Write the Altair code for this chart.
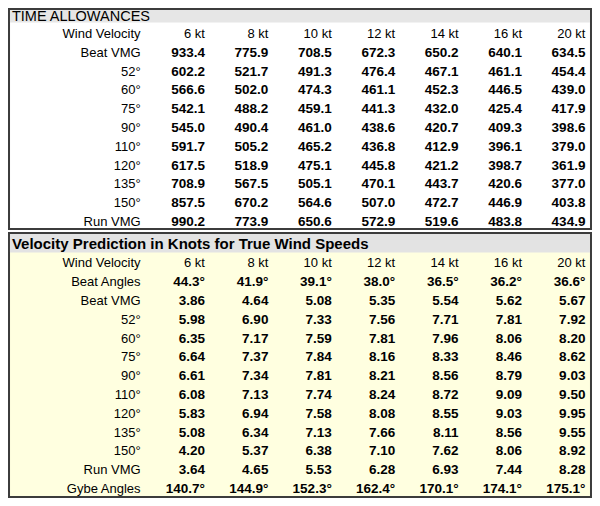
import altair as alt
import pandas as pd

# ---------------- data ----------------
kt_labels = ["6 kt", "8 kt", "10 kt", "12 kt", "14 kt", "16 kt", "20 kt"]

ta_title = "TIME ALLOWANCES"
ta_rows = ["Beat VMG", "52°", "60°", "75°", "90°", "110°", "120°", "135°", "150°", "Run VMG"]
ta_values = [
    [933.4, 775.9, 708.5, 672.3, 650.2, 640.1, 634.5],
    [602.2, 521.7, 491.3, 476.4, 467.1, 461.1, 454.4],
    [566.6, 502.0, 474.3, 461.1, 452.3, 446.5, 439.0],
    [542.1, 488.2, 459.1, 441.3, 432.0, 425.4, 417.9],
    [545.0, 490.4, 461.0, 438.6, 420.7, 409.3, 398.6],
    [591.7, 505.2, 465.2, 436.8, 412.9, 396.1, 379.0],
    [617.5, 518.9, 475.1, 445.8, 421.2, 398.7, 361.9],
    [708.9, 567.5, 505.1, 470.1, 443.7, 420.6, 377.0],
    [857.5, 670.2, 564.6, 507.0, 472.7, 446.9, 403.8],
    [990.2, 773.9, 650.6, 572.9, 519.6, 483.8, 434.9],
]

vp_title = "Velocity Prediction in Knots for True Wind Speeds"
vp_rows = ["Beat Angles", "Beat VMG", "52°", "60°", "75°", "90°", "110°", "120°",
           "135°", "150°", "Run VMG", "Gybe Angles"]
vp_values = [
    [44.3, 41.9, 39.1, 38.0, 36.5, 36.2, 36.6],
    [3.86, 4.64, 5.08, 5.35, 5.54, 5.62, 5.67],
    [5.98, 6.90, 7.33, 7.56, 7.71, 7.81, 7.92],
    [6.35, 7.17, 7.59, 7.81, 7.96, 8.06, 8.20],
    [6.64, 7.37, 7.84, 8.16, 8.33, 8.46, 8.62],
    [6.61, 7.34, 7.81, 8.21, 8.56, 8.79, 9.03],
    [6.08, 7.13, 7.74, 8.24, 8.72, 9.09, 9.50],
    [5.83, 6.94, 7.58, 8.08, 8.55, 9.03, 9.95],
    [5.08, 6.34, 7.13, 7.66, 8.11, 8.56, 9.55],
    [4.20, 5.37, 6.38, 7.10, 7.62, 8.06, 8.92],
    [3.64, 4.65, 5.53, 6.28, 6.93, 7.44, 8.28],
    [140.7, 144.9, 152.3, 162.4, 170.1, 174.1, 175.1],
]
header_label = "Wind Velocity"

# ---------------- table build ----------------
BLOCK2 = 12.207  # row offset of second table
angle_rows = {"Beat Angles", "Gybe Angles"}

labels, heads, vals = [], [], []
labels.append({"row": 0, "col": 0, "t": header_label})
for j, k in enumerate(kt_labels):
    heads.append({"row": 0, "col": j + 1, "t": k})
for i, name in enumerate(ta_rows):
    labels.append({"row": i + 1, "col": 0, "t": name})
    for j, v in enumerate(ta_values[i]):
        vals.append({"row": i + 1, "col": j + 1, "t": f"{v:.1f}"})
labels.append({"row": BLOCK2, "col": 0, "t": header_label})
for j, k in enumerate(kt_labels):
    heads.append({"row": BLOCK2, "col": j + 1, "t": k})
for i, name in enumerate(vp_rows):
    labels.append({"row": BLOCK2 + i + 1, "col": 0, "t": name})
    for j, v in enumerate(vp_values[i]):
        txt = f"{v:.1f}°" if name in angle_rows else f"{v:.2f}"
        vals.append({"row": BLOCK2 + i + 1, "col": j + 1, "t": txt})

df_lab = pd.DataFrame(labels)
df_head = pd.DataFrame(heads)
df_val = pd.DataFrame(vals)
one = pd.DataFrame({"k": [0]})

FONT = "Liberation Sans"
XS = alt.Scale(domain=[-2.107, 7.104], nice=False, zero=False)
YS = alt.Scale(domain=[-1.383, 24.681], nice=False, zero=False, reverse=True)


def box(x1, x2, y1, y2, fill, stroke=None):
    kw = dict(fill=fill)
    if stroke:
        kw.update(stroke=stroke, strokeWidth=2)
    else:
        kw.update(strokeWidth=0)
    return alt.Chart(one).mark_rect(**kw).encode(
        x=alt.X(datum=x1, type="quantitative", scale=XS, axis=None),
        x2=alt.X2(datum=x2),
        y=alt.Y(datum=y1, type="quantitative", scale=YS, axis=None),
        y2=alt.Y2(datum=y2),
    )


BORDER = "#3c3c3c"
box1 = box(-2.091, 7.088, -1.330, 10.372, "#ffffff", BORDER)
band1 = box(-2.076, 7.072, -1.277, -0.612, "#e6e6e6")
box2 = box(-2.091, 7.088, 10.585, 24.628, "#ffffe0", BORDER)
band2 = box(-2.076, 7.072, 10.638, 11.622, "#e3e3e3")

titles = pd.DataFrame({"t": [ta_title, vp_title], "row": [-0.904, 11.17]})
title1 = alt.Chart(titles.iloc[[0]]).mark_text(
    align="left", baseline="middle", font=FONT, fontSize=14.5, color="#000000"
).encode(
    x=alt.X(datum=-2.045, type="quantitative", scale=XS, axis=None),
    y=alt.Y("row:Q", scale=YS, axis=None),
    text="t:N",
)
title2 = alt.Chart(titles.iloc[[1]]).mark_text(
    align="left", baseline="middle", font=FONT, fontSize=15, fontWeight="bold", color="#000000"
).encode(
    x=alt.X(datum=-2.045, type="quantitative", scale=XS, axis=None),
    y=alt.Y("row:Q", scale=YS, axis=None),
    text="t:N",
)


def text_layer(df, bold, dx=0):
    return alt.Chart(df).mark_text(
        align="right", baseline="middle", font=FONT, fontSize=13.5 if bold else 13,
        fontWeight="bold" if bold else "normal", color="#000000", dx=dx
    ).encode(
        x=alt.X("col:Q", scale=XS, axis=None),
        y=alt.Y("row:Q", scale=YS, axis=None),
        text="t:N",
    )


lab_layer = text_layer(df_lab, False, dx=-1)
head_layer = text_layer(df_head, False)
val_layer = text_layer(df_val, True)

chart = alt.layer(
    box1, band1, box2, band2, title1, title2, lab_layer, head_layer, val_layer
).properties(
    width=584, height=490, padding=0, autosize=alt.AutoSizeParams(type="none")
).configure_view(stroke=None)

chart.save("out.html", embed_options={"renderer": "svg", "actions": False})
